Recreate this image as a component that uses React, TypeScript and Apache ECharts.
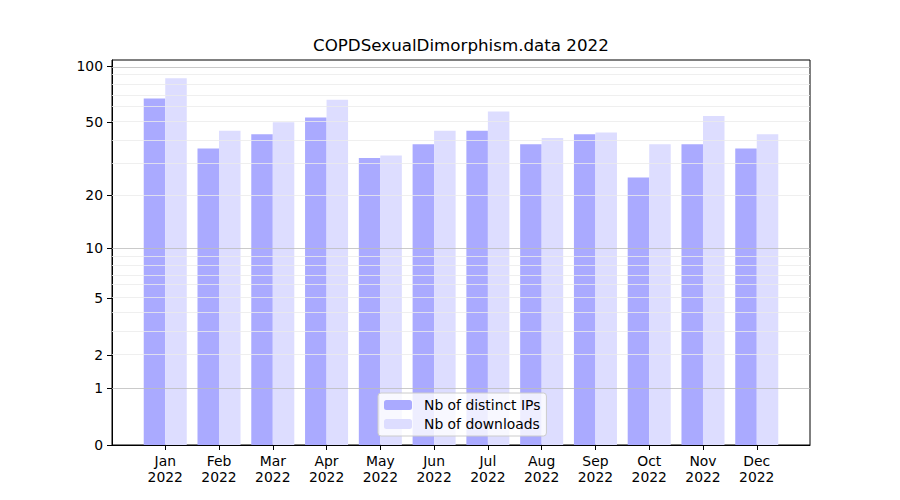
import React, { useEffect, useRef } from "react";
import * as echarts from "echarts";

const months = ["Jan", "Feb", "Mar", "Apr", "May", "Jun", "Jul", "Aug", "Sep", "Oct", "Nov", "Dec"];
const yearLabel = "2022";
const distinctIPs = [67, 36, 43, 53, 32, 38, 45, 38, 43, 25, 38, 36];
const downloads = [86, 45, 50, 66, 33, 45, 57, 41, 44, 38, 54, 43];
const yTickValues = [0, 1, 2, 5, 10, 20, 50, 100];
const majorGrid = [1, 10, 100];
const minorGrid = [2, 3, 4, 5, 6, 7, 8, 9, 20, 30, 40, 50, 60, 70, 80, 90];

const tf = (v: number) => Math.log10(1 + v);
const FONT = "DejaVu Sans";

export default function App() {
  const ref = useRef<HTMLDivElement>(null);
  useEffect(() => {
    if (!ref.current) return;
    const chart = echarts.init(ref.current, undefined, { renderer: "svg" });
    const yMax = 1.05 * tf(Math.max(...downloads, ...distinctIPs));
    const gridLines = [
      ...minorGrid.map((v) => ({ yAxis: tf(v), lineStyle: { color: "#ebebeb", width: 0.8, type: "solid" as const } })),
      ...majorGrid.map((v) => ({ yAxis: tf(v), lineStyle: { color: "#bdbdbd", width: 0.8, type: "solid" as const } })),
    ];
    chart.setOption({
      animation: false,
      title: {
        text: "COPDSexualDimorphism.data 2022",
        left: 313,
        top: 36,
        padding: 0,
        textStyle: { fontFamily: FONT, fontSize: 16.7, fontWeight: "normal", color: "#000" },
      },
      grid: {
        left: 112,
        right: 90,
        top: 60,
        bottom: 55,
        show: true,
        borderColor: "#000",
        borderWidth: 1,
        backgroundColor: "transparent",
      },
      legend: {
        orient: "vertical",
        left: 378,
        top: 393,
        padding: [5, 6, 5, 6],
        itemWidth: 28,
        itemHeight: 10,
        itemGap: 5,
        backgroundColor: "rgba(255,255,255,0.8)",
        borderColor: "#cccccc",
        borderWidth: 1,
        borderRadius: 3,
        textStyle: { fontFamily: FONT, fontSize: 13.9, color: "#000", padding: [0, 0, 0, 7] },
        data: ["Nb of distinct IPs", "Nb of downloads"],
      },
      xAxis: {
        type: "value",
        min: -0.99,
        max: 11.99,
        splitLine: { show: false },
        axisLine: { show: true, onZero: false, lineStyle: { color: "#000", width: 1 } },
        axisTick: {
          show: true,
          length: 5,
          customValues: months.map((_, i) => i),
          lineStyle: { color: "#000" },
        },
        axisLabel: {
          customValues: months.map((_, i) => i),
          formatter: (v: number) => `${months[Math.round(v)]}\n${yearLabel}`,
          fontFamily: FONT,
          fontSize: 13.9,
          color: "#000",
          lineHeight: 16,
          margin: 8,
        },
      },
      yAxis: {
        type: "value",
        min: 0,
        max: yMax,
        splitLine: { show: false },
        axisLine: { show: true, onZero: false, lineStyle: { color: "#000", width: 1 } },
        axisTick: {
          show: true,
          length: 5,
          customValues: yTickValues.map(tf),
          lineStyle: { color: "#000" },
        },
        axisLabel: {
          customValues: yTickValues.map(tf),
          formatter: (v: number) => String(Math.round(Math.pow(10, v) - 1)),
          fontFamily: FONT,
          fontSize: 13.9,
          color: "#000",
          margin: 9,
        },
      },
      series: [
        {
          name: "Nb of distinct IPs",
          type: "bar",
          data: distinctIPs.map((v, i) => [i, tf(v)]),
          barWidth: "40%",
          barGap: "0%",
          itemStyle: { color: "#aaaaff" },
        },
        {
          name: "Nb of downloads",
          type: "bar",
          data: downloads.map((v, i) => [i, tf(v)]),
          barWidth: "40%",
          barGap: "0%",
          itemStyle: { color: "#ddddff" },
        },
        {
          name: "grid",
          type: "line",
          data: [],
          silent: true,
          z: 5,
          markLine: {
            silent: true,
            symbol: ["none", "none"],
            label: { show: false },
            emphasis: { disabled: true },
            data: gridLines,
          },
        },
      ],
    });
    return () => chart.dispose();
  }, []);
  return (
    <div
      ref={ref}
      style={{ position: "fixed", left: 0, top: 0, width: 900, height: 500, background: "#fff" }}
    />
  );
}
